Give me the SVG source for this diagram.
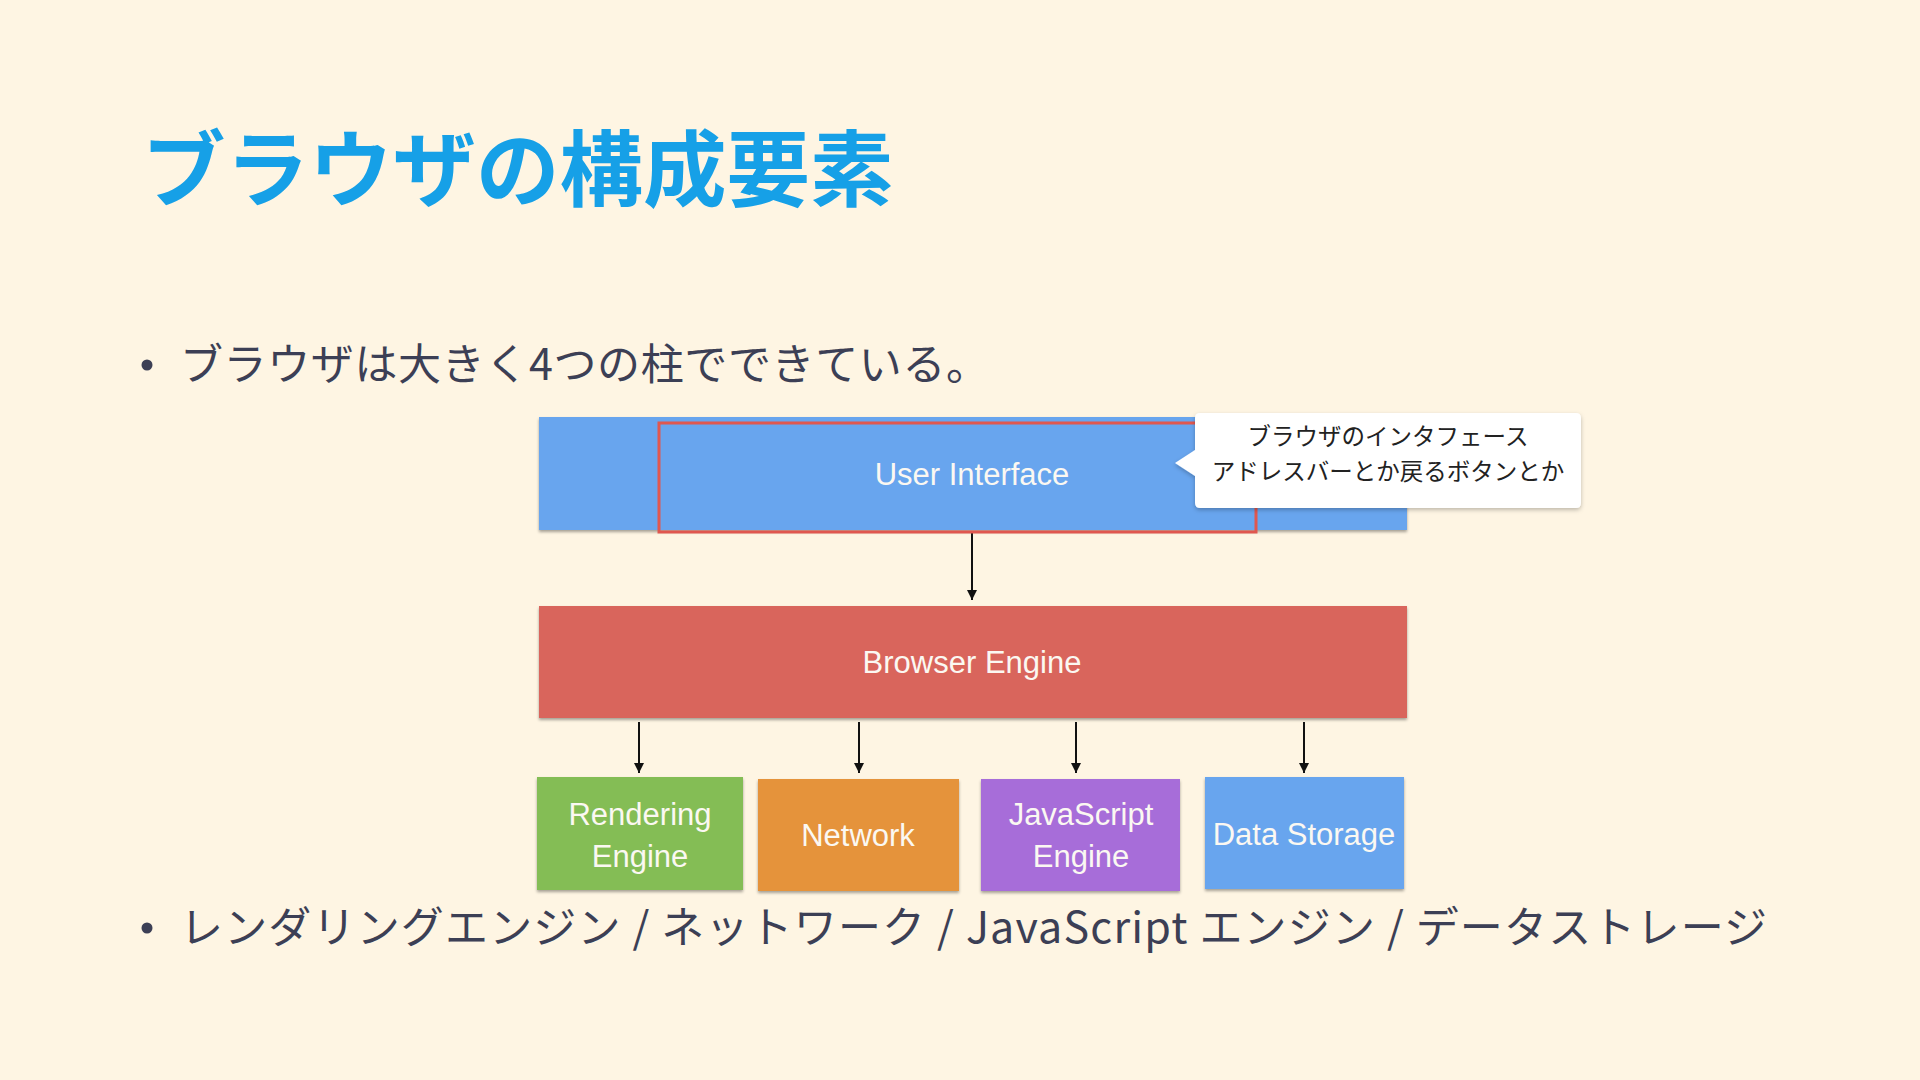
<svg xmlns="http://www.w3.org/2000/svg" width="1920" height="1080" viewBox="0 0 1920 1080">
  <defs>
    <style>
      .title { font-family: "Noto Sans CJK JP", "Noto Sans", sans-serif; font-weight: 700; font-size: 83.5px; fill: #16a0e7; }
      .bullet { font-family: "Noto Sans CJK JP", "Noto Sans", sans-serif; font-size: 43px; fill: #3c3f55; }
      .lbl { font-family: "Liberation Sans", "Noto Sans CJK JP", sans-serif; font-size: 31px; fill: #fbf8f2; text-anchor: middle; }
      .note { font-family: "Noto Sans CJK JP", sans-serif; font-size: 23.5px; fill: #222222; text-anchor: middle; }
      .box { filter: url(#shadow); }
      .conn { stroke: #111111; stroke-width: 2; fill: none; marker-end: url(#arrow); }
    </style>
    <filter id="shadow" x="-5%" y="-10%" width="110%" height="130%">
      <feDropShadow dx="0" dy="2" stdDeviation="1.5" flood-color="#000000" flood-opacity="0.35"/>
    </filter>
    <filter id="nshadow" x="-5%" y="-10%" width="110%" height="130%">
      <feDropShadow dx="0" dy="2" stdDeviation="2" flood-color="#000000" flood-opacity="0.25"/>
    </filter>
    <marker id="arrow" viewBox="0 0 10 10" refX="10" refY="5" markerWidth="10" markerHeight="10" markerUnits="userSpaceOnUse" orient="auto">
      <path d="M0,0 L10,5 L0,10 z" fill="#111111"/>
    </marker>
  </defs>

  <rect x="0" y="0" width="1920" height="1080" fill="#fef5e3"/>

  <text class="title" x="142" y="200">ブラウザの構成要素</text>

  <circle cx="147" cy="365" r="5.5" fill="#3c3f55"/>
  <text class="bullet" x="180" y="380" textLength="809" lengthAdjust="spacing">ブラウザは大きく4つの柱でできている。</text>

  <circle cx="147" cy="928" r="5.5" fill="#3c3f55"/>
  <text class="bullet" x="180" y="943" textLength="1587" lengthAdjust="spacing">レンダリングエンジン / ネットワーク / JavaScript エンジン / データストレージ</text>

  <g id="connectors">
    <line class="conn" x1="972" y1="533" x2="972" y2="600"/>
    <line class="conn" x1="639" y1="722" x2="639" y2="773"/>
    <line class="conn" x1="859" y1="722" x2="859" y2="773"/>
    <line class="conn" x1="1076" y1="722" x2="1076" y2="773"/>
    <line class="conn" x1="1304" y1="722" x2="1304" y2="773"/>
  </g>

  <g id="user-interface">
    <rect class="box" x="539" y="417" width="868" height="113" fill="#68a5ee"/>
    <rect x="659" y="423" width="597" height="109" fill="none" stroke="#e0574f" stroke-width="3"/>
    <text class="lbl" x="972" y="485">User Interface</text>
  </g>

  <g id="callout">
    <path d="M1200,413 H1576 Q1581,413 1581,418 V503 Q1581,508 1576,508 H1200 Q1195,508 1195,503 V476 L1175,463 L1195,450 V418 Q1195,413 1200,413 Z" fill="#ffffff" filter="url(#nshadow)"/>
    <text class="note" x="1388" y="445">ブラウザのインタフェース</text>
    <text class="note" x="1388" y="480">アドレスバーとか戻るボタンとか</text>
  </g>

  <g id="browser-engine">
    <rect class="box" x="539" y="606" width="868" height="112" fill="#d9655c"/>
    <text class="lbl" x="972" y="673">Browser Engine</text>
  </g>

  <g id="rendering-engine">
    <rect class="box" x="537" y="777" width="206" height="113" fill="#84bd55"/>
    <text class="lbl" x="640" y="825">Rendering</text>
    <text class="lbl" x="640" y="867">Engine</text>
  </g>

  <g id="network">
    <rect class="box" x="758" y="779" width="201" height="112" fill="#e5933b"/>
    <text class="lbl" x="858" y="846">Network</text>
  </g>

  <g id="javascript-engine">
    <rect class="box" x="981" y="779" width="199" height="112" fill="#a76dd9"/>
    <text class="lbl" x="1081" y="825">JavaScript</text>
    <text class="lbl" x="1081" y="867">Engine</text>
  </g>

  <g id="data-storage">
    <rect class="box" x="1205" y="777" width="199" height="112" fill="#68a5ee"/>
    <text class="lbl" x="1304" y="845">Data Storage</text>
  </g>
</svg>
